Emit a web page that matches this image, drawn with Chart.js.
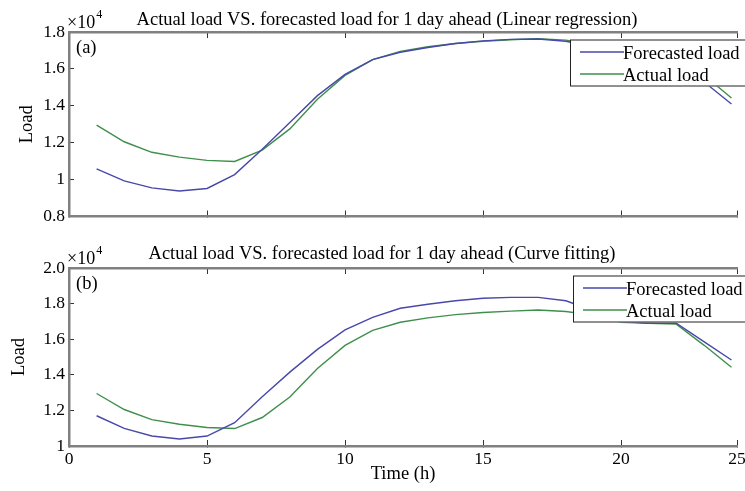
<!DOCTYPE html>
<html lang="en">
<head>
<meta charset="UTF-8">
<title>Actual load VS. forecasted load</title>
<script src="https://cdn.jsdelivr.net/npm/chart.js"></script>
<style>
  html, body { margin: 0; padding: 0; background: #fff; overflow: hidden; }
  #wrap { position: relative; width: 745px; height: 491px; }
  canvas { position: absolute; left: 0; }
  #topChart { top: 0; }
  #bottomChart { top: 236px; }
</style>
</head>
<body>
<div id="wrap">
  <canvas id="topChart" width="745" height="236"></canvas>
  <canvas id="bottomChart" width="745" height="255"></canvas>
</div>
<script>
// hourly values, in load units (axis shows x10^4)
const hours = [1, 2, 3, 4, 5, 6, 7, 8, 9, 10, 11, 12, 13, 14, 15, 16, 17, 18, 19, 20, 21, 22, 23, 24];
const actualLoad = [12950, 12050, 11480, 11220, 11040, 10980, 11600, 12750, 14350, 15650, 16500, 16950,
                    17200, 17380, 17500, 17580, 17640, 17560, 17350, 16950, 16900, 16850, 15670, 14420];
const linearForecast = [10580, 9930, 9550, 9380, 9520, 10270, 11640, 13100, 14550, 15700, 16500, 16900,
                        17160, 17380, 17520, 17600, 17620, 17500, 17200, 16800, 16600, 16400, 15300, 14100];
const curveForecast = [11700, 10990, 10560, 10390, 10560, 11310, 12770, 14150, 15430, 16520, 17230, 17740,
                       17960, 18160, 18300, 18350, 18350, 18160, 17600, 17000, 16900, 16900, 15860, 14830];

const xTicks = [0, 5, 10, 15, 20, 25];
const xTickLabels = ['0', '5', '10', '15', '20', '25'];
const topYTicks = [8000, 10000, 12000, 14000, 16000, 18000];
const topYTickLabels = ['0.8', '1', '1.2', '1.4', '1.6', '1.8'];
const bottomYTicks = [10000, 12000, 14000, 16000, 18000, 20000];
const bottomYTickLabels = ['1', '1.2', '1.4', '1.6', '1.8', '2.0'];

const SERIF = '"Liberation Serif", "Times New Roman", serif';
const BLUE = '#4848aa';
const GREEN = '#3f8f4c';
const FRAME = '#808080';
const X_MAX = 24.2;

// title, exponent, panel letter and boxed legend
const decor = {
    id: 'decor',
    afterDraw(chart, args, opts) {
        const ctx = chart.ctx;
        const area = chart.chartArea;
        ctx.save();
        ctx.fillStyle = '#000';
        ctx.textBaseline = 'alphabetic';

        ctx.font = '18.5px ' + SERIF;
        ctx.textAlign = 'center';
        ctx.fillText(opts.title, opts.titleX, opts.titleY);

        ctx.textAlign = 'left';
        ctx.font = '18px ' + SERIF;
        ctx.fillText('\u00d710', area.left - 2, area.top - 4);
        const w = ctx.measureText('\u00d710').width;
        ctx.font = '12px ' + SERIF;
        ctx.fillText('4', area.left - 1 + w, area.top - 14);

        ctx.font = '18.5px ' + SERIF;
        ctx.fillText(opts.panel, area.left + 7, area.top + 21);

        // legend box
        const bx = opts.legendX, by = area.top + 7.5;
        ctx.fillStyle = '#fff';
        ctx.fillRect(bx, by, 200, 47);
        ctx.strokeStyle = '#222';
        ctx.lineWidth = 1;
        ctx.strokeRect(bx + 0.5, by + 0.5, 200, 46);
        chart.data.datasets.forEach((ds, i) => {
            const ry = by + 12.5 + i * 22;
            ctx.strokeStyle = ds.borderColor;
            ctx.lineWidth = 1.3;
            ctx.beginPath();
            ctx.moveTo(bx + 10, ry);
            ctx.lineTo(bx + 54, ry);
            ctx.stroke();
            ctx.fillStyle = '#000';
            ctx.fillText(ds.label, bx + 53, ry + 7);
        });
        ctx.restore();
    }
};

function makeChart(id, cfg) {
    const tickFont = { family: SERIF, size: 17.5 };
    const axisFont = { family: SERIF, size: 18.5 };
    const xTicksFrom = s => { s.ticks = xTicks.map(v => ({ value: Math.min(v, X_MAX) })); };
    return new Chart(document.getElementById(id), {
        type: 'line',
        data: {
            datasets: [
                {
                    label: 'Forecasted load',
                    data: hours.map((h, i) => ({ x: h, y: cfg.forecast[i] })),
                    borderColor: BLUE,
                    borderWidth: 1.4,
                    pointRadius: 0,
                    tension: 0
                },
                {
                    label: 'Actual load',
                    data: hours.map((h, i) => ({ x: h, y: actualLoad[i] })),
                    borderColor: GREEN,
                    borderWidth: 1.4,
                    pointRadius: 0,
                    tension: 0
                }
            ]
        },
        options: {
            responsive: false,
            animation: false,
            events: [],
            layout: { padding: { top: 32, right: 8, bottom: cfg.padBottom, left: 0 } },
            plugins: {
                legend: { display: false },
                tooltip: { enabled: false },
                decor: { title: cfg.title, titleX: cfg.titleX, titleY: cfg.titleY, panel: cfg.panel, legendX: cfg.legendX }
            },
            scales: {
                x: {
                    type: 'linear',
                    min: 0,
                    max: X_MAX,
                    afterBuildTicks: xTicksFrom,
                    afterFit: s => { s.height = cfg.xHeight; s.paddingRight = 0; s.paddingLeft = 0; },
                    grid: { drawOnChartArea: false, drawTicks: true, tickLength: -6, color: '#333', lineWidth: 1 },
                    border: { display: true, color: FRAME, width: 2.5 },
                    ticks: {
                        display: cfg.showX,
                        padding: 9,
                        color: '#000',
                        font: tickFont,
                        maxRotation: 0,
                        autoSkip: false,
                        callback: (v, i) => xTickLabels[i]
                    },
                    title: { display: cfg.showX, text: 'Time (h)', color: '#000', font: axisFont, padding: { top: 0, bottom: 6 } }
                },
                x2: {
                    type: 'linear',
                    position: 'top',
                    min: 0,
                    max: X_MAX,
                    afterBuildTicks: xTicksFrom,
                    afterFit: s => { s.height = 0; s.paddingRight = 0; s.paddingLeft = 0; },
                    grid: { drawOnChartArea: false, drawTicks: true, tickLength: -6, color: '#333', lineWidth: 1 },
                    border: { display: true, color: FRAME, width: 2.5 },
                    ticks: { display: false }
                },
                y: {
                    type: 'linear',
                    min: cfg.yTicks[0],
                    max: cfg.yTicks[cfg.yTicks.length - 1],
                    afterBuildTicks: s => { s.ticks = cfg.yTicks.map(v => ({ value: v })); },
                    afterFit: s => { s.width = 69; },
                    grid: { drawOnChartArea: false, drawTicks: true, tickLength: -5, color: '#333', lineWidth: 1 },
                    border: { display: true, color: FRAME, width: 2.5 },
                    ticks: {
                        padding: 9,
                        color: '#000',
                        font: tickFont,
                        callback: (v, i) => cfg.yLabels[i]
                    },
                    title: { display: true, text: 'Load', color: '#000', font: axisFont, padding: { top: cfg.yTitlePad, bottom: 0 } }
                }
            }
        },
        plugins: [decor]
    });
}

makeChart('topChart', {
    forecast: linearForecast,
    yTicks: topYTicks,
    yLabels: topYTickLabels,
    title: 'Actual load VS. forecasted load for 1 day ahead (Linear regression)',
    titleX: 387,
    titleY: 25,
    panel: '(a)',
    legendX: 570,
    showX: false,
    xHeight: 0,
    padBottom: 9,
    yTitlePad: 16
});

makeChart('bottomChart', {
    forecast: curveForecast,
    yTicks: bottomYTicks,
    yLabels: bottomYTickLabels,
    title: 'Actual load VS. forecasted load for 1 day ahead (Curve fitting)',
    titleX: 382,
    titleY: 23,
    panel: '(b)',
    legendX: 573,
    showX: true,
    xHeight: 45,
    padBottom: 0,
    yTitlePad: 8
});
</script>
</body>
</html>
